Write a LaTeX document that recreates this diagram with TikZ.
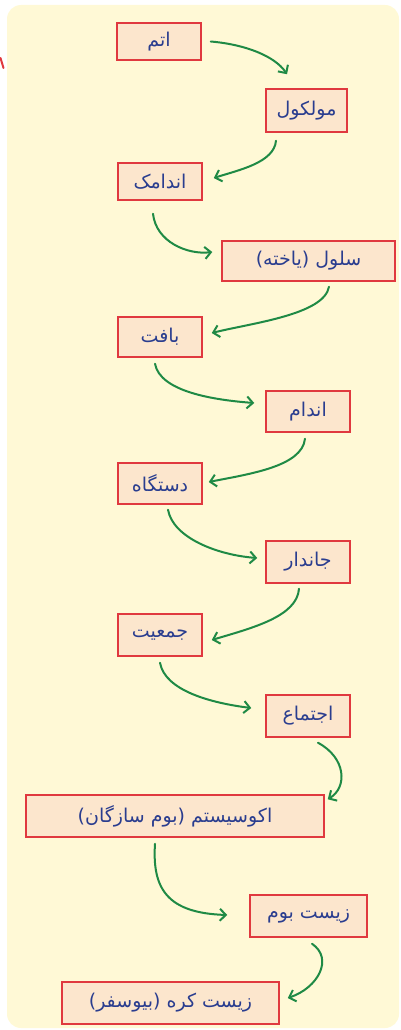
\documentclass[tikz,border=0pt]{standalone}
\usepackage{fontspec}
\newfontfamily\fafont[Script=Arabic]{DejaVu Sans}
\TeXXeTstate=1
\usetikzlibrary{arrows.meta,calc}
\definecolor{bgyellow}{HTML}{FFF9D6}
\definecolor{boxfill}{HTML}{FCE6CD}
\definecolor{boxred}{HTML}{E0393F}
\definecolor{txtblue}{HTML}{2A3D8F}
\definecolor{arrgreen}{HTML}{1F8A45}
\tikzset{
  levelbox/.style={draw=boxred, line width=1.5pt, fill=boxfill, text=txtblue,
    font=\fafont\fontsize{19}{22}\selectfont, inner sep=0pt, minimum height=41pt},
  flowarrow/.style={draw=arrgreen, line width=2pt, line cap=round,
    -{Straight Barb[length=6pt,width=12pt,line width=2pt]}},
}
\begin{document}
\begin{tikzpicture}[x=1pt,y=1pt]
\useasboundingbox (0,0) rectangle (401,-1030);
\fill[bgyellow, rounded corners=14pt] (7,-5) rectangle (399,-1028);
\draw[boxred, line width=2pt, line cap=round] (0.5,-58) -- (3.5,-68);

\node[levelbox, minimum width=84pt, minimum height=37pt] (n1) at (159,-41.5) {\beginR اتم\endR};
\node[levelbox, minimum width=81pt, minimum height=43pt] (n2) at (306.5,-110.5) {\beginR مولکول\endR};
\node[levelbox, minimum width=84pt, minimum height=37pt] (n3) at (160,-181.5) {\beginR اندامک\endR};
\node[levelbox, minimum width=173pt, minimum height=40pt] (n4) at (308.5,-261) {\beginR سلول (یاخته)\endR};
\node[levelbox, minimum width=84pt, minimum height=40pt] (n5) at (160,-337) {\beginR بافت\endR};
\node[levelbox, minimum width=84pt] (n6) at (308,-411.5) {\beginR اندام\endR};
\node[levelbox, minimum width=84pt] (n7) at (160,-483.5) {\beginR دستگاه\endR};
\node[levelbox, minimum width=84pt, minimum height=42pt] (n8) at (308,-562) {\beginR جاندار\endR};
\node[levelbox, minimum width=84pt, minimum height=42pt] (n9) at (160,-635) {\beginR جمعیت\endR};
\node[levelbox, minimum width=84pt, minimum height=42pt] (n10) at (308,-716) {\beginR اجتماع\endR};
\node[levelbox, minimum width=298pt, minimum height=42pt] (n11) at (175,-816) {\beginR اکوسیستم (بوم سازگان)\endR};
\node[levelbox, minimum width=117pt, minimum height=42pt] (n12) at (308.5,-916) {\beginR زیست بوم\endR};
\node[levelbox, minimum width=217pt, minimum height=42pt] (n13) at (170.5,-1003) {\beginR زیست کره (بیوسفر)\endR};

\draw[flowarrow] ($(n1.east)+(9,0)$) .. controls +(35,-3) and +(-12,18) .. ($(n2.north)+(-19.5,14)$);
\draw[flowarrow] ($(n2.south)+(-30.5,-8)$) .. controls +(-2,-22) and +(25,8) .. ($(n3.east)+(11,3.5)$);
\draw[flowarrow] ($(n3.south)+(-7,-13)$) .. controls +(3,-28) and +(-25,-3) .. ($(n4.west)+(-9,9)$);
\draw[flowarrow] ($(n4.south)+(20.5,-5)$) .. controls +(-5,-28) and +(40,10) .. ($(n5.east)+(9,4)$);
\draw[flowarrow] ($(n5.south)+(-5,-6)$) .. controls +(5,-28) and +(-40,3) .. ($(n6.west)+(-11,8.5)$);
\draw[flowarrow] ($(n6.south)+(-3,-6)$) .. controls +(-3,-28) and +(40,8) .. ($(n7.east)+(6,1.5)$);
\draw[flowarrow] ($(n7.south)+(8,-5)$) .. controls +(5,-28) and +(-40,3) .. ($(n8.west)+(-8,4)$);
\draw[flowarrow] ($(n8.south)+(-9,-5)$) .. controls +(-2,-28) and +(40,12) .. ($(n9.east)+(9,-5)$);
\draw[flowarrow] ($(n9.south)+(0,-6)$) .. controls +(5,-28) and +(-40,5) .. ($(n10.west)+(-14,8)$);
\draw[flowarrow] ($(n10.south)+(10,-5)$) .. controls +(28,-15) and +(20,12) .. ($(n11.north east)+(3,-5)$);
\draw[flowarrow] ($(n11.south)+(-20,-6)$) .. controls +(-3,-45) and +(-60,2) .. ($(n12.west)+(-22,1)$);
\draw[flowarrow] ($(n12.south)+(3.5,-6)$) .. controls +(22,-15) and +(30,10) .. ($(n13.east)+(8,5)$);
\end{tikzpicture}
\end{document}
